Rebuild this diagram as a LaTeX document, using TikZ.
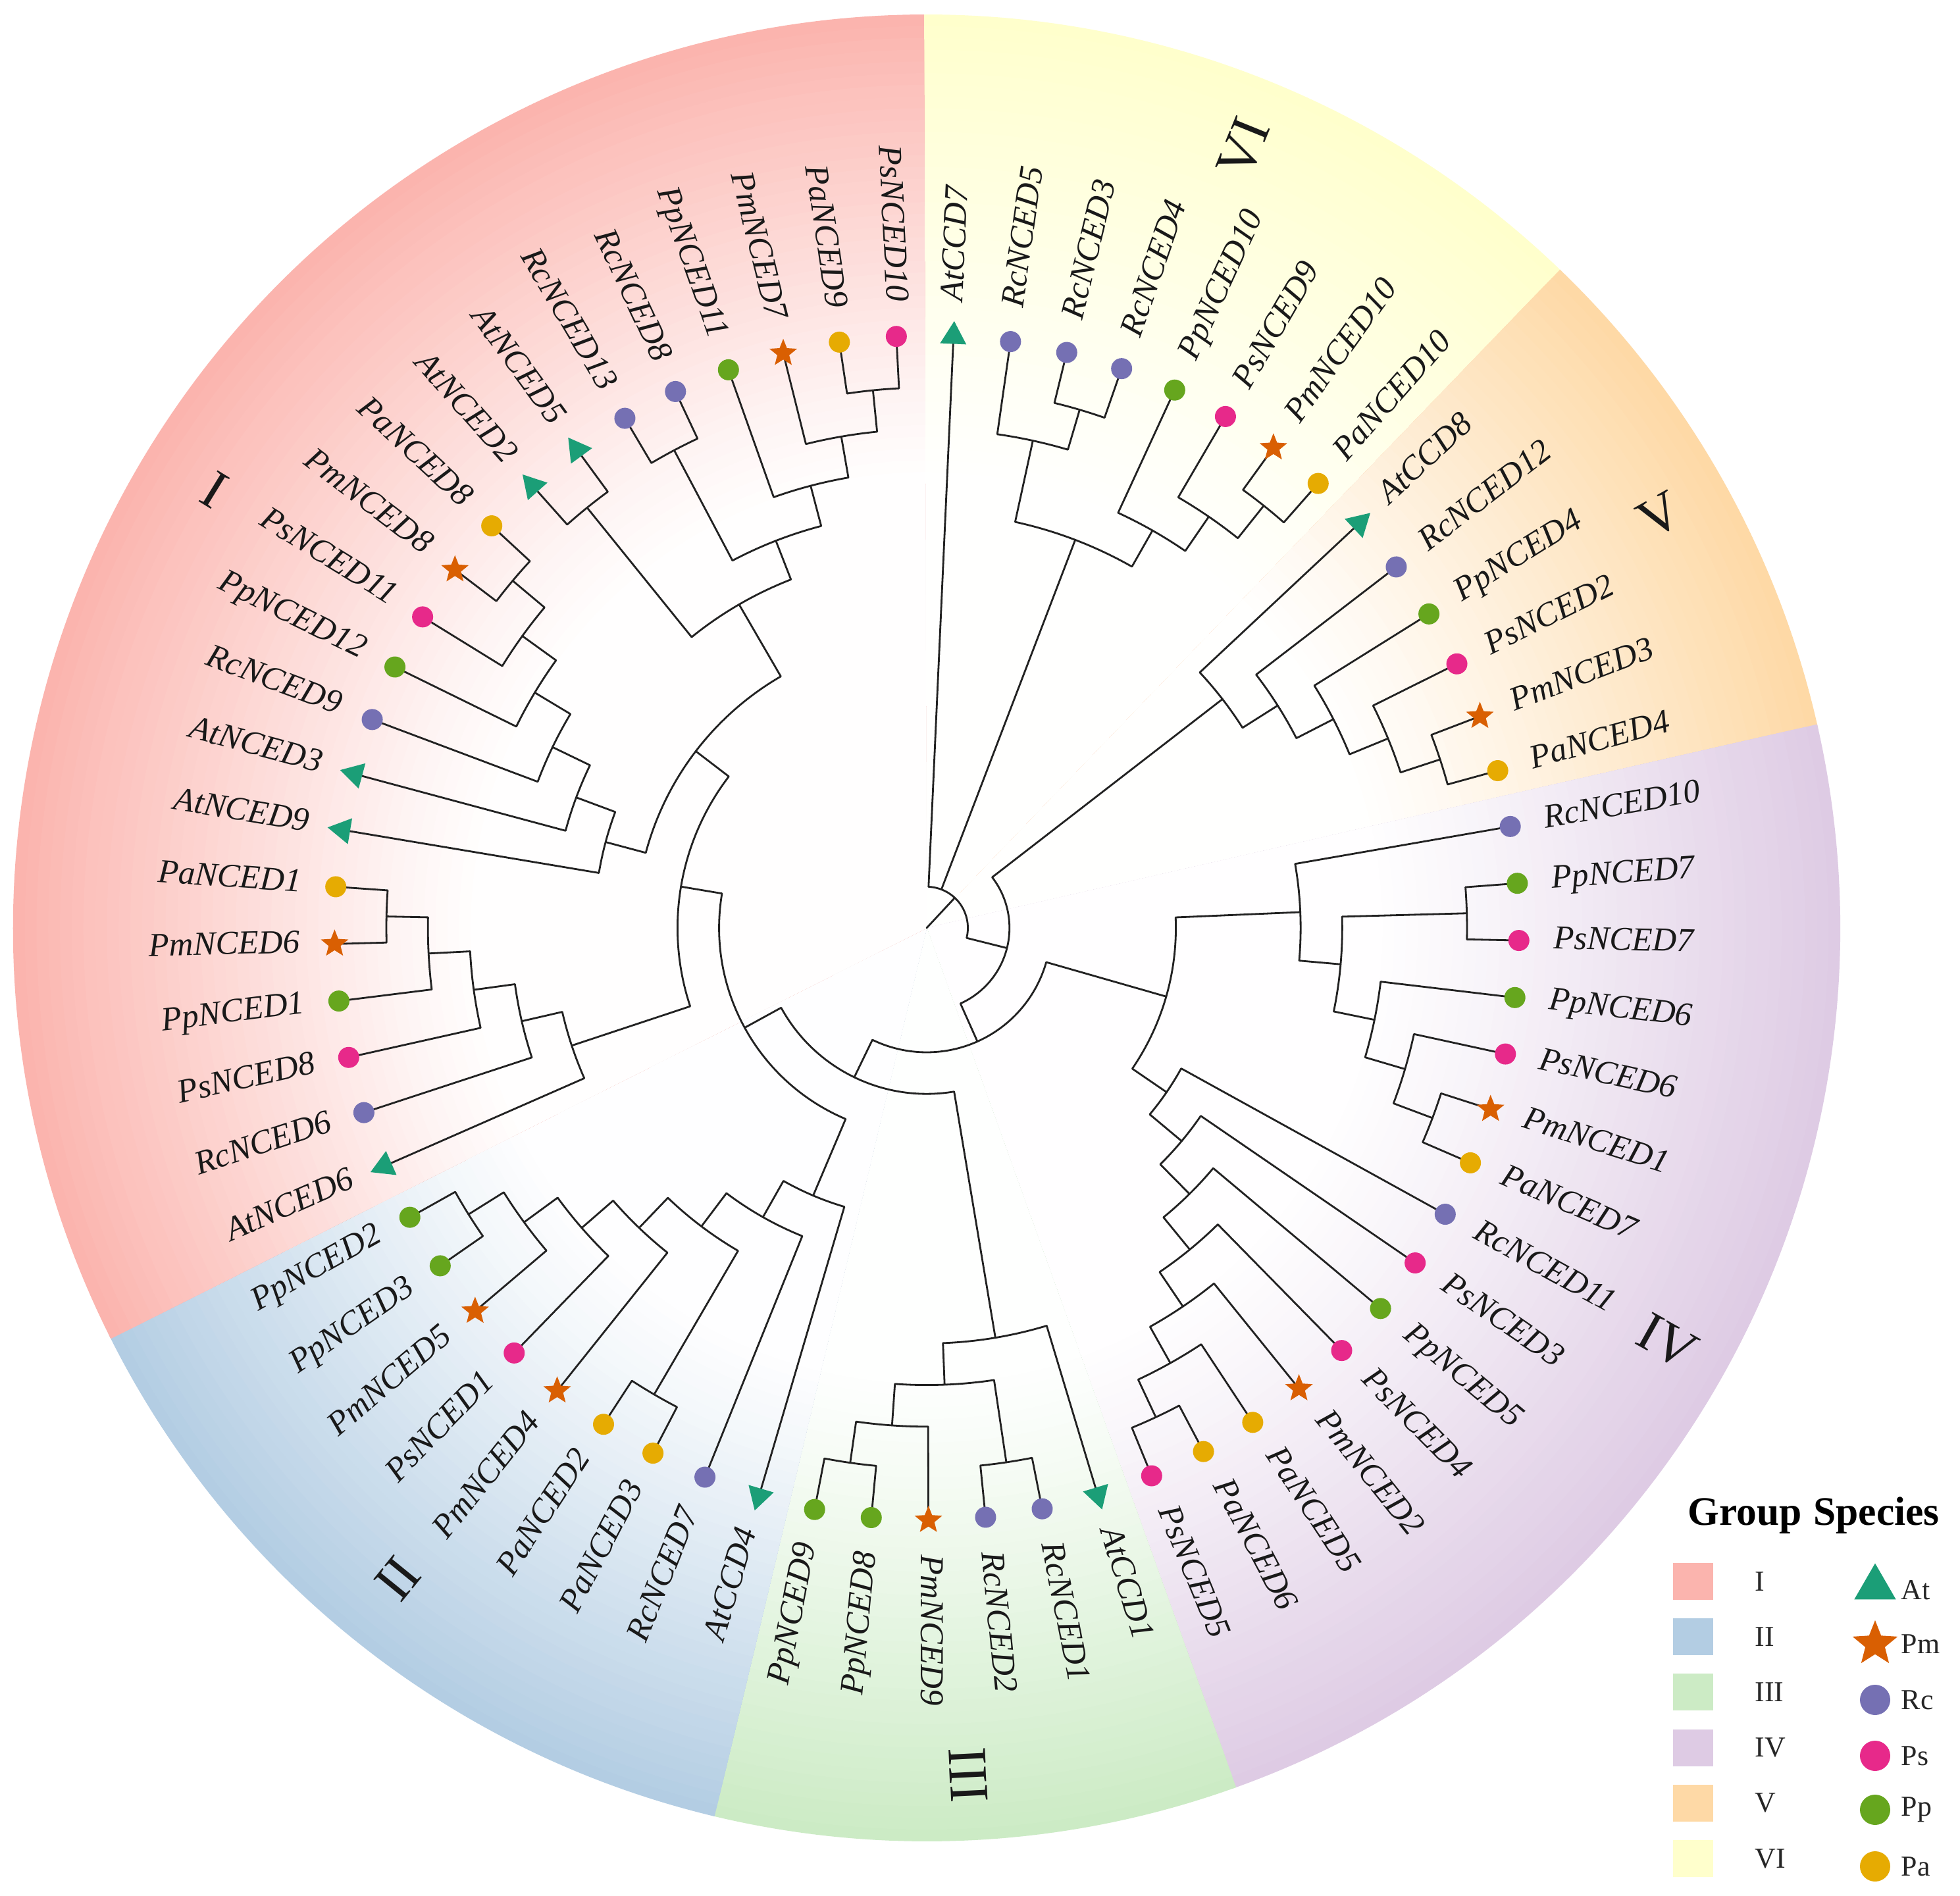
\documentclass[tikz,border=0pt]{standalone}
\usepackage{fontspec}
\setmainfont{Liberation Serif}
\usetikzlibrary{shapes.geometric}
\definecolor{gI}{HTML}{FBB4AE}
\definecolor{gII}{HTML}{B3CDE3}
\definecolor{gIII}{HTML}{CCEBC5}
\definecolor{gIV}{HTML}{DECBE4}
\definecolor{gV}{HTML}{FED9A6}
\definecolor{gVI}{HTML}{FFFFCC}
\definecolor{cAt}{HTML}{1B9E77}
\definecolor{cPm}{HTML}{D95F02}
\definecolor{cRc}{HTML}{7570B3}
\definecolor{cPs}{HTML}{E7298A}
\definecolor{cPp}{HTML}{66A61E}
\definecolor{cPa}{HTML}{E6AB02}
\definecolor{linecol}{HTML}{222222}

\newcommand\setleaf[2]{%
  \pgfmathsetmacro\tmpang{87.4-5.53846*#1}%
  \expandafter\xdef\csname tang#2\endcsname{\tmpang}%
  \expandafter\xdef\csname trad#2\endcsname{9.0}%
}
\newcommand\tnode[4]{%
  \edef\tca{\csname tang#3\endcsname}%
  \edef\tcb{\csname tang#4\endcsname}%
  \pgfmathsetmacro\trr{8.842-0.632*#2}%
  \pgfmathsetmacro\tmid{(\tca+\tcb)/2}%
  \expandafter\xdef\csname tang#1\endcsname{\tmid}%
  \expandafter\xdef\csname trad#1\endcsname{\trr}%
  \coordinate (#1) at (\tmid:\trr);
  \draw[branch] (#3) -- (\tca:\trr) arc[start angle=\tca, end angle=\tcb, radius=\trr cm] -- (#4);
}
\def\leaves{0/AtCCD7/At,1/RcNCED5/Rc,2/RcNCED3/Rc,3/RcNCED4/Rc,4/PpNCED10/Pp,5/PsNCED9/Ps,6/PmNCED10/Pm,7/PaNCED10/Pa,8/AtCCD8/At,9/RcNCED12/Rc,10/PpNCED4/Pp,11/PsNCED2/Ps,12/PmNCED3/Pm,13/PaNCED4/Pa,14/RcNCED10/Rc,15/PpNCED7/Pp,16/PsNCED7/Ps,17/PpNCED6/Pp,18/PsNCED6/Ps,19/PmNCED1/Pm,20/PaNCED7/Pa,21/RcNCED11/Rc,22/PsNCED3/Ps,23/PpNCED5/Pp,24/PsNCED4/Ps,25/PmNCED2/Pm,26/PaNCED5/Pa,27/PaNCED6/Pa,28/PsNCED5/Ps,29/AtCCD1/At,30/RcNCED1/Rc,31/RcNCED2/Rc,32/PmNCED9/Pm,33/PpNCED8/Pp,34/PpNCED9/Pp,35/AtCCD4/At,36/RcNCED7/Rc,37/PaNCED3/Pa,38/PaNCED2/Pa,39/PmNCED4/Pm,40/PsNCED1/Ps,41/PmNCED5/Pm,42/PpNCED3/Pp,43/PpNCED2/Pp,44/AtNCED6/At,45/RcNCED6/Rc,46/PsNCED8/Ps,47/PpNCED1/Pp,48/PmNCED6/Pm,49/PaNCED1/Pa,50/AtNCED9/At,51/AtNCED3/At,52/RcNCED9/Rc,53/PpNCED12/Pp,54/PsNCED11/Ps,55/PmNCED8/Pm,56/PaNCED8/Pa,57/AtNCED2/At,58/AtNCED5/At,59/RcNCED13/Rc,60/RcNCED8/Rc,61/PpNCED11/Pp,62/PmNCED7/Pm,63/PaNCED9/Pa,64/PsNCED10/Ps}

\begin{document}
\begin{tikzpicture}[
  branch/.style={draw=linecol, line width=0.8pt, line cap=round, line join=round},
  mkAt/.style={regular polygon, regular polygon sides=3, shape border rotate=\lb, fill=cAt, inner sep=0pt, minimum size=0.46cm},
  mkPm/.style={star, star points=5, star point ratio=2.3, fill=cPm, inner sep=0pt, minimum size=0.44cm},
  mkRc/.style={circle, fill=cRc, inner sep=0pt, minimum size=0.32cm},
  mkPs/.style={circle, fill=cPs, inner sep=0pt, minimum size=0.32cm},
  mkPp/.style={circle, fill=cPp, inner sep=0pt, minimum size=0.32cm},
  mkPa/.style={circle, fill=cPa, inner sep=0pt, minimum size=0.32cm},
  leaflab/.style={font=\fontsize{14.5}{17}\selectfont\itshape, inner sep=0pt, text height=0.66em, text depth=0pt, text=black!90},
  grplab/.style={font=\fontsize{24}{28}\selectfont, inner sep=0pt, text=black!90},
  legtitle/.style={font=\fontsize{17.5}{20}\selectfont\bfseries, inner sep=0pt},
  leglab/.style={font=\fontsize{12.5}{15}\selectfont, inner sep=0pt, text=black!85}
]
\useasboundingbox (-14.08,-14.71) rectangle (15.70,14.10);
\fill[white] (-14.08,-14.71) rectangle (15.70,14.10);
\coordinate (center) at (0,0);

% background sectors, fading to white towards the centre
\foreach \a/\b/\g in {90.17/45.86/VI, 45.86/12.63/V, 12.63/-70.45/IV, -70.45/-103.68/III, -103.68/-153.52/II, -153.52/-269.83/I}{
  \pgfmathsetmacro\aa{\a+0.25}
  \pgfmathsetmacro\bb{\b}
  \foreach \k in {40,39,...,1}{
    \pgfmathsetmacro\rk{6.75+7.13*\k/40}
    \pgfmathtruncatemacro\pk{100*(\k/40)^1.15}
    \fill[g\g!\pk!white] (0,0) -- (\aa:\rk) arc[start angle=\aa, end angle=\bb, radius=\rk cm] -- cycle;
  }
}

% leaves
\foreach \i/\n/\s in \leaves {
  \setleaf{\i}{\n}
  \coordinate (\n) at (\csname tang\n\endcsname:9.0);
}

% group VI
\tnode{a1}{1}{RcNCED3}{RcNCED4}
\tnode{a2}{2}{RcNCED5}{a1}
\tnode{a3}{1}{PmNCED10}{PaNCED10}
\tnode{a4}{2}{PsNCED9}{a3}
\tnode{a5}{3}{PpNCED10}{a4}
\tnode{VI}{4}{a2}{a5}
% group V
\tnode{b1}{1}{PmNCED3}{PaNCED4}
\tnode{b2}{2}{PsNCED2}{b1}
\tnode{b3}{3}{PpNCED4}{b2}
\tnode{b4}{4}{RcNCED12}{b3}
\tnode{V}{5}{AtCCD8}{b4}
% group IV
\tnode{c1}{1}{PpNCED7}{PsNCED7}
\tnode{c2}{1}{PmNCED1}{PaNCED7}
\tnode{c3}{2}{PsNCED6}{c2}
\tnode{c4}{3}{PpNCED6}{c3}
\tnode{c5}{4}{c1}{c4}
\tnode{c6}{5}{RcNCED10}{c5}
\tnode{d1}{1}{PaNCED6}{PsNCED5}
\tnode{d2}{2}{PaNCED5}{d1}
\tnode{d3}{3}{PmNCED2}{d2}
\tnode{d4}{4}{PsNCED4}{d3}
\tnode{d5}{5}{PpNCED5}{d4}
\tnode{d6}{6}{PsNCED3}{d5}
\tnode{d7}{7}{RcNCED11}{d6}
\tnode{IV}{8}{c6}{d7}
% group III
\tnode{e1}{1}{RcNCED1}{RcNCED2}
\tnode{e2}{1}{PpNCED8}{PpNCED9}
\tnode{e3}{2}{PmNCED9}{e2}
\tnode{e4}{3}{e1}{e3}
\tnode{III}{4}{AtCCD1}{e4}
% group II
\tnode{f1}{1}{PpNCED3}{PpNCED2}
\tnode{f2}{2}{PmNCED5}{f1}
\tnode{f3}{3}{PsNCED1}{f2}
\tnode{f4}{4}{PmNCED4}{f3}
\tnode{f5}{1}{PaNCED3}{PaNCED2}
\tnode{f6}{5}{f5}{f4}
\tnode{f7}{6}{RcNCED7}{f6}
\tnode{II}{7}{AtCCD4}{f7}
% group I
\tnode{g1}{1}{PmNCED6}{PaNCED1}
\tnode{g2}{2}{PpNCED1}{g1}
\tnode{g3}{3}{PsNCED8}{g2}
\tnode{g4}{4}{RcNCED6}{g3}
\tnode{g5}{5}{AtNCED6}{g4}
\tnode{h1}{1}{PmNCED8}{PaNCED8}
\tnode{h2}{2}{PsNCED11}{h1}
\tnode{h3}{3}{PpNCED12}{h2}
\tnode{h4}{4}{RcNCED9}{h3}
\tnode{h5}{5}{AtNCED3}{h4}
\tnode{h6}{6}{AtNCED9}{h5}
\tnode{k1}{1}{PaNCED9}{PsNCED10}
\tnode{k2}{2}{PmNCED7}{k1}
\tnode{k3}{3}{PpNCED11}{k2}
\tnode{k4}{1}{RcNCED13}{RcNCED8}
\tnode{k5}{4}{k4}{k3}
\tnode{k6}{1}{AtNCED2}{AtNCED5}
\tnode{k7}{5}{k6}{k5}
\tnode{I2}{7}{h6}{k7}
\tnode{I1}{8}{g5}{I2}
% backbone
\tnode{m1}{9}{II}{I1}
\tnode{m2}{10}{III}{m1}
\tnode{m3}{11}{IV}{m2}
\tnode{m4}{12}{V}{m3}
% root
\pgfmathsetmacro\rr{8.842-0.632*13}
\edef\aA{\csname tangAtCCD7\endcsname}
\edef\aM{\csname tangm4\endcsname}
\edef\aVI{\csname tangVI\endcsname}
\coordinate (root) at (47:\rr);
\draw[branch] (center) -- (root);
\draw[branch] (AtCCD7) -- (\aA:\rr) arc[start angle=\aA, end angle=\aM, radius=\rr cm] -- (m4);
\draw[branch] (\aVI:\rr) -- (VI);

% markers and labels
\foreach \i/\n/\s in \leaves {
  \pgfmathsetmacro\la{87.4-5.53846*\i}
  \pgfmathsetmacro\lb{\la-90}
  \node[mk\s] (m-\n) at (\la:9.0) {};
  \pgfmathparse{cos(\la)}
  \ifdim\pgfmathresult pt>0pt
    \node[leaflab, rotate=\la, anchor=west] (t-\n) at (\la:9.52) {\n};
  \else
    \pgfmathsetmacro\lc{\la+180}
    \node[leaflab, rotate=\lc, anchor=east] (t-\n) at (\la:9.52) {\n};
  \fi
}

% group numerals
\node[grplab, rotate=-31.6] (gl-I) at (148.4:12.71) {I};
\node[grplab, rotate=50.9] (gl-II) at (230.9:12.74) {II};
\node[grplab, rotate=-87.2] (gl-III) at (-87.2:12.89) {III};
\node[grplab, rotate=-29.2] (gl-IV) at (-29.2:12.89) {IV};
\node[grplab, rotate=29.4] (gl-V) at (29.4:12.78) {V};
\node[grplab, rotate=67.9] (gl-VI) at (67.9:12.80) {VI};

% legend
\node[legtitle, anchor=base] (lg-group) at (12.43,-9.07) {Group};
\node[legtitle, anchor=base] (lg-species) at (14.43,-9.07) {Species};
\foreach \k/\g in {0/I,1/II,2/III,3/IV,4/V,5/VI}{
  \pgfmathsetmacro\yy{-9.93-0.842*\k}
  \node[fill=g\g, minimum width=0.61cm, minimum height=0.56cm, inner sep=0pt] (lgs-\g) at (11.64,\yy) {};
  \node[leglab, anchor=west] (lgt-\g) at (12.58,\yy) {\g};
}
\node[regular polygon, regular polygon sides=3, fill=cAt, inner sep=0pt, minimum size=0.73cm] (lgm-At) at (14.41,-10.02) {};
\node[star, star points=5, star point ratio=2.3, fill=cPm, inner sep=0pt, minimum size=0.72cm] (lgm-Pm) at (14.41,-10.88) {};
\node[circle, fill=cRc, inner sep=0pt, minimum size=0.46cm] (lgm-Rc) at (14.41,-11.73) {};
\node[circle, fill=cPs, inner sep=0pt, minimum size=0.46cm] (lgm-Ps) at (14.41,-12.58) {};
\node[circle, fill=cPp, inner sep=0pt, minimum size=0.46cm] (lgm-Pp) at (14.41,-13.40) {};
\node[circle, fill=cPa, inner sep=0pt, minimum size=0.46cm] (lgm-Pa) at (14.41,-14.26) {};
\foreach \s/\yy in {At/-10.06, Pm/-10.88, Rc/-11.73, Ps/-12.58, Pp/-13.40, Pa/-14.26}{
  \node[leglab, anchor=west] (lgl-\s) at (14.80,\yy) {\s};
}
\end{tikzpicture}
\end{document}
